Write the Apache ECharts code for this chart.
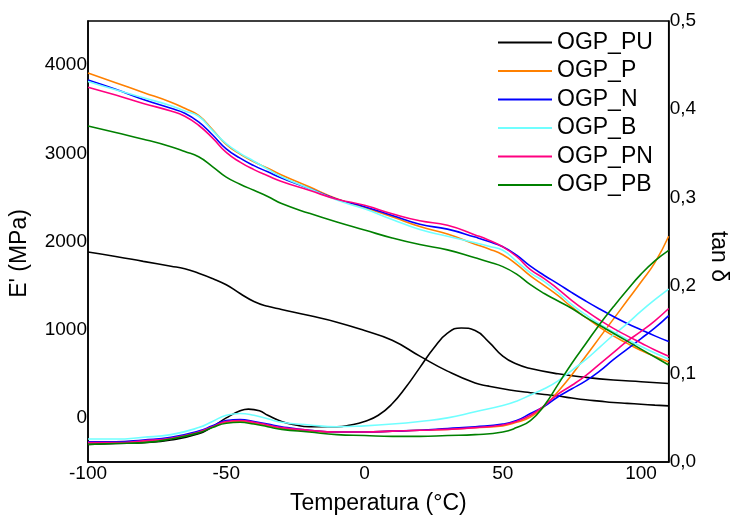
<!DOCTYPE html>
<html>
<head>
<meta charset="utf-8">
<script src="https://cdn.jsdelivr.net/npm/echarts@6/dist/echarts.min.js"></script>
<style>html,body{margin:0;padding:0;background:#fff}#c{width:738px;height:520px}</style>
</head>
<body>
<div id="c"></div>
<script>
// Temperature grids (°C)
const tempsE = [-100,-90,-80,-70,-65,-60,-55,-50,-45,-40,-35,-30,-20,-10,0,10,20,30,40,45,50,55,60,65,70,75,80,85,90,95,100,105,110];
const tempsTan = [-100,-90,-80,-70,-60,-55,-50,-45,-40,-35,-30,-20,-10,0,10,20,30,40,50,55,60,65,70,75,80,85,90,95,100,105,110];
const tempsPUtan = [-100,-90,-80,-70,-60,-55,-50,-45,-42,-38,-35,-30,-25,-20,-10,-5,0,5,10,15,20,25,30,35,40,45,50,55,60,70,80,90,100,110];

// Storage modulus E' (MPa)
const E_PU = [1880,1830,1775,1720,1690,1640,1580,1510,1410,1320,1265,1230,1160,1085,990,880,700,530,395,360,330,305,285,265,248,225,205,190,175,165,155,145,136];
const E_P  = [3910,3800,3690,3580,3510,3430,3270,3100,2990,2905,2830,2755,2620,2485,2385,2280,2170,2085,1970,1915,1850,1740,1610,1500,1385,1255,1140,1030,930,845,765,695,635];
const E_N  = [3830,3725,3610,3510,3455,3356,3210,3050,2945,2860,2790,2720,2600,2480,2395,2295,2195,2140,2050,2000,1940,1845,1720,1615,1520,1420,1325,1235,1150,1070,1000,930,865];
const E_B  = [3815,3720,3630,3540,3480,3420,3260,3110,3000,2910,2820,2735,2600,2470,2370,2250,2135,2060,1985,1945,1900,1775,1645,1545,1420,1285,1170,1065,975,890,810,735,665];
const E_PN = [3750,3660,3565,3480,3420,3318,3175,3010,2900,2815,2745,2680,2580,2480,2410,2315,2235,2185,2075,2015,1940,1830,1680,1580,1460,1330,1215,1110,1015,930,850,770,700];
const E_PB = [3310,3235,3160,3075,3020,2960,2850,2730,2650,2580,2510,2430,2320,2220,2130,2040,1965,1905,1815,1768,1715,1630,1510,1410,1325,1240,1140,1050,960,870,780,690,600];

// tan delta
const T_PU = [0.020,0.021,0.022,0.025,0.032,0.040,0.050,0.058,0.060,0.058,0.053,0.046,0.042,0.040,0.040,0.042,0.046,0.053,0.066,0.085,0.107,0.129,0.146,0.152,0.149,0.136,0.120,0.111,0.106,0.100,0.096,0.093,0.091,0.089];
const T_P  = [0.023,0.023,0.024,0.027,0.034,0.040,0.045,0.046,0.044,0.041,0.038,0.035,0.034,0.034,0.035,0.036,0.037,0.039,0.041,0.045,0.051,0.063,0.080,0.099,0.120,0.141,0.162,0.183,0.204,0.226,0.256];
const T_N  = [0.023,0.023,0.025,0.028,0.035,0.041,0.047,0.048,0.046,0.043,0.040,0.036,0.034,0.034,0.035,0.036,0.038,0.040,0.043,0.047,0.055,0.063,0.074,0.083,0.092,0.103,0.116,0.128,0.140,0.152,0.166];
const T_B  = [0.026,0.026,0.028,0.031,0.039,0.046,0.053,0.055,0.053,0.049,0.045,0.042,0.040,0.041,0.043,0.046,0.050,0.057,0.064,0.069,0.076,0.083,0.092,0.104,0.116,0.130,0.144,0.157,0.171,0.184,0.196];
const T_PN = [0.022,0.022,0.024,0.027,0.034,0.040,0.046,0.047,0.045,0.042,0.039,0.036,0.034,0.034,0.035,0.036,0.037,0.039,0.042,0.046,0.053,0.064,0.077,0.087,0.098,0.111,0.124,0.137,0.148,0.160,0.174];
const T_PB = [0.020,0.021,0.022,0.026,0.033,0.039,0.044,0.045,0.043,0.040,0.037,0.034,0.031,0.030,0.029,0.029,0.030,0.031,0.034,0.039,0.047,0.064,0.088,0.112,0.134,0.156,0.176,0.195,0.213,0.228,0.240];

const names  = ['OGP_PU','OGP_P','OGP_N','OGP_B','OGP_PN','OGP_PB'];
const colors = ['#000000','#ff8000','#0000ff','#70ffff','#ff0080','#008000'];
const modulus = [E_PU,E_P,E_N,E_B,E_PN,E_PB];
const tand = [T_PU,T_P,T_N,T_B,T_PN,T_PB];

const FONT = '"Liberation Sans", Arial, sans-serif';
const pair = (xs, ys) => xs.map((x, i) => [x, ys[i]]);

const series = [];
names.forEach((n, k) => {
  const common = {
    name: n, type: 'line', showSymbol: false, symbol: 'none',
    smooth: true,
    lineStyle: {color: colors[k], width: 1.6}, itemStyle: {color: colors[k]},
    animation: false
  };
  series.push(Object.assign({}, common, {yAxisIndex: 0, data: pair(tempsE, modulus[k])}));
  series.push(Object.assign({}, common, {yAxisIndex: 1, data: pair(k === 0 ? tempsPUtan : tempsTan, tand[k])}));
});

const chart = echarts.init(document.getElementById('c'));
chart.setOption({
  animation: false,
  backgroundColor: '#fff',
  textStyle: {fontFamily: FONT},
  grid: {left: 86, right: 55, top: 21, bottom: 58, show: true, borderColor: '#000', borderWidth: 1.5, backgroundColor: 'transparent'},
  legend: {
    orient: 'vertical', left: 498, top: 31, padding: 0,
    icon: 'rect', itemWidth: 54, itemHeight: 2, itemGap: 5.5,
    data: names,
    textStyle: {fontFamily: FONT, fontSize: 23, color: '#000', lineHeight: 23}
  },
  xAxis: {
    type: 'value', min: -100, max: 110, interval: 50,
    name: 'Temperatura (°C)', nameLocation: 'middle', nameGap: 30,
    nameTextStyle: {fontFamily: FONT, fontSize: 23, color: '#000'},
    axisLine: {show: true, onZero: false, lineStyle: {color: '#000', width: 1.5}},
    axisTick: {show: false},
    splitLine: {show: false},
    axisLabel: {
      fontFamily: FONT, fontSize: 19, color: '#000', margin: 2,
      formatter: v => (v % 50 === 0 ? String(v) : '')
    }
  },
  yAxis: [{
    type: 'value', min: -500, max: 4500, interval: 500,
    name: "E' (MPa)", nameLocation: 'middle', nameGap: 57,
    nameTextStyle: {fontFamily: FONT, fontSize: 23, color: '#000', padding: [0, 24, 0, 0]},
    axisLine: {show: true, onZero: false, lineStyle: {color: '#000', width: 1.5}},
    axisTick: {show: false},
    splitLine: {show: false},
    axisLabel: {
      fontFamily: FONT, fontSize: 19, color: '#000', margin: 1,
      formatter: v => (v % 1000 === 0 && v >= 0 && v <= 4000 ? String(v) : '')
    }
  }, {
    type: 'value', min: 0, max: 0.5, interval: 0.1, position: 'right',
    name: 'tan δ', nameLocation: 'middle', nameGap: 28, nameRotate: -90,
    nameTextStyle: {fontFamily: FONT, fontSize: 23, color: '#000', padding: [0, 0, 0, 30]},
    axisLine: {show: true, onZero: false, lineStyle: {color: '#000', width: 1.5}},
    axisTick: {show: false},
    splitLine: {show: false},
    axisLabel: {
      fontFamily: FONT, fontSize: 19, color: '#000', margin: 1,
      formatter: v => v.toFixed(1).replace('.', ',')
    }
  }],
  series: series
});
</script>
</body>
</html>
